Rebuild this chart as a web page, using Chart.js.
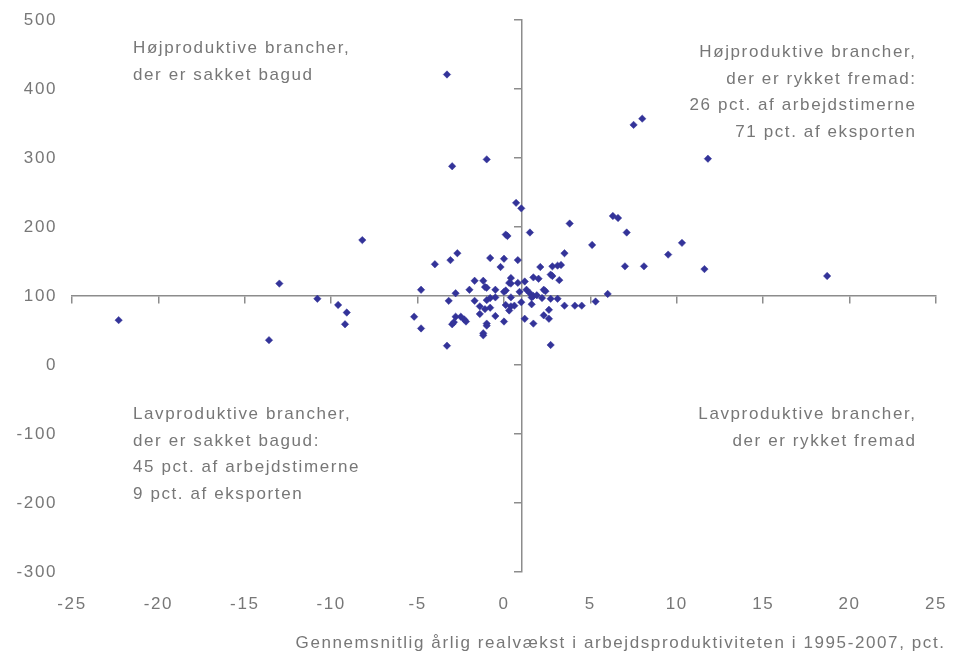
<!DOCTYPE html>
<html><head><meta charset="utf-8">
<script src="https://cdn.jsdelivr.net/npm/chart.js@4.4.1/dist/chart.umd.min.js"></script>
<style>html,body{margin:0;padding:0;background:#fff;overflow:hidden}#wrap{width:955px;height:653px;position:relative}</style>
</head><body><div id="wrap"><canvas id="c"></canvas></div>
<script>
// ---- data ----
const xValues = [
  -22.3, -13.0, -13.6, -10.8, -9.6, -9.1, -9.2, -8.2, -3.3, -3.0,
  -1.0, 7.5, 8.0, 11.8, 3.8, 6.3, 6.6, 7.1, 5.1, 10.3,
  9.5, 3.5, 3.3, 3.2, 7.0, 8.1, 11.6, 18.7, 6.0, 5.3,
  3.5, 4.1, 4.5, -4.8, -5.2, -4.8, -4.0, -3.1, -2.7, -3.2,
  -2.8, -3.3, -2.8, -2.5, -2.3, -2.2, -3.0, -2.9, -1.4, -0.5,
  0.0, -1.0, -1.0, -1.2, -1.2, 1.2, 1.7, 2.3, 2.6, 2.6,
  2.7, 0.7, 1.0, 1.5, 0.2, 0.1, -0.8, 0.0, 0.8, -0.2,
  2.1, 2.8, 3.1, 2.7, 2.8, 1.7, 2.0, 0.4, 0.3, 0.4,
  0.8, 1.2, -1.7, -1.2, -1.1, -1.0, -2.0, -0.5, 0.0, 0.1,
  0.9, 1.3, 2.4, 2.3, 1.5, 1.7, 1.9, -1.7, -1.0, -0.8,
  -0.5, 0.4, 1.0, 1.6, 1.6, 2.2, 2.7, 3.1, -1.4, -1.1,
  -0.8, 0.1, 0.4, 0.6, 0.3
];
const yValues = [
  65, 118, 36, 96, 87, 76, 59, 181, 421, 288,
  298, 348, 357, 299, 205, 216, 213, 192, 174, 177,
  160, 162, 145, 123, 143, 143, 139, 129, 103, 92,
  86, 86, 86, 109, 70, 53, 146, 152, 162, 93,
  104, 28, 70, 70, 66, 63, 59, 62, 74, 71,
  63, 60, 57, 46, 43, 67, 60, 72, 80, 67,
  29, 235, 227, 192, 187, 189, 155, 154, 152, 142,
  142, 143, 144, 131, 129, 127, 125, 126, 119, 118,
  119, 121, 122, 122, 113, 112, 109, 109, 106, 108,
  106, 109, 107, 109, 104, 100, 101, 93, 94, 97,
  98, 98, 91, 98, 88, 97, 96, 96, 85, 81,
  83, 87, 85, 86, 79
];
const xTickValues = [-25, -20, -15, -10, -5, 0, 5, 10, 15, 20, 25];
const yTickValues = [-300, -200, -100, 0, 100, 200, 300, 400, 500];
const xCross = 1;     // vertical axis crosses here
const yCross = 100;   // horizontal axis crosses here
const xAxisTitle = 'Gennemsnitlig årlig realvækst i arbejdsproduktiviteten i 1995-2007, pct.';
const textTopLeft = ['Højproduktive brancher,', 'der er sakket bagud'];
const textTopRight = ['Højproduktive brancher,', 'der er rykket fremad:', '26 pct. af arbejdstimerne', '71 pct. af eksporten'];
const textBottomLeft = ['Lavproduktive brancher,', 'der er sakket bagud:', '45 pct. af arbejdstimerne', '9 pct. af eksporten'];
const textBottomRight = ['Lavproduktive brancher,', 'der er rykket fremad'];

// ---- style ----
const FONT = '"Liberation Sans", Arial, sans-serif';
const FS = 17;
const LS = 1.6;
const TEXT_COLOR = '#777777';
const AXIS_COLOR = '#8c8c8c';
const POINT_COLOR = '#333399';

const points = xValues.map((x, i) => ({x: x, y: yValues[i]}));

const spacingPlugin = {
  id: 'spacing',
  beforeUpdate(chart) { chart.ctx.letterSpacing = LS + 'px'; },
  beforeDraw(chart) { chart.ctx.letterSpacing = LS + 'px'; }
};

const textPlugin = {
  id: 'quadrantTexts',
  afterDraw(chart) {
    const ctx = chart.ctx;
    const a = chart.chartArea;
    ctx.save();
    ctx.letterSpacing = LS + 'px';
    ctx.font = FS + 'px ' + FONT;
    ctx.fillStyle = TEXT_COLOR;
    ctx.textBaseline = 'alphabetic';
    const lh = 26.6;
    ctx.textAlign = 'left';
    textTopLeft.forEach((t, i) => ctx.fillText(t, a.left + 61, a.top + 33 + i * lh));
    textBottomLeft.forEach((t, i) => ctx.fillText(t, a.left + 61, a.bottom - 153 + i * lh));
    ctx.textAlign = 'right';
    textTopRight.forEach((t, i) => ctx.fillText(t, a.right - 21 + LS, a.top + 37 + i * lh));
    textBottomRight.forEach((t, i) => ctx.fillText(t, a.right - 21 + LS, a.bottom - 153 + i * lh));
    // x axis title
    ctx.fillText(xAxisTitle, a.right + 8 + LS, a.bottom + 76);
    ctx.restore();
  }
};

new Chart(document.getElementById('c'), {
  type: 'scatter',
  data: {
    datasets: [{
      data: points,
      pointStyle: 'rectRot',
      pointRadius: 3.7,
      pointHoverRadius: 3.7,
      backgroundColor: POINT_COLOR,
      borderColor: POINT_COLOR,
      borderWidth: 0.5
    }]
  },
  options: {
    responsive: true,
    maintainAspectRatio: false,
    animation: false,
    events: [],
    layout: { padding: { top: 20, right: 19, left: 0, bottom: 0 } },
    plugins: { legend: { display: false }, tooltip: { enabled: false } },
    scales: {
      x: {
        type: 'linear', position: 'bottom', min: -25, max: 25,
        afterBuildTicks: s => { s.ticks = xTickValues.map(v => ({value: v})); },
        afterFit: s => { s.height = 81; s.paddingLeft = 0; s.paddingRight = 0; },
        grid: { display: false, drawTicks: false },
        border: { display: false },
        ticks: { color: TEXT_COLOR, font: { family: FONT, size: FS }, padding: 22, maxRotation: 0, autoSkip: false }
      },
      y: {
        type: 'linear', position: 'left', min: -300, max: 500,
        afterBuildTicks: s => { s.ticks = yTickValues.map(v => ({value: v})); },
        afterFit: s => { s.width = 72; s.paddingTop = 0; s.paddingBottom = 0; },
        grid: { display: false, drawTicks: false },
        border: { display: false },
        ticks: { color: TEXT_COLOR, font: { family: FONT, size: FS }, padding: 15 }
      },
      x2: {
        type: 'linear', axis: 'x', position: { y: yCross }, min: -25, max: 25,
        afterBuildTicks: s => { s.ticks = xTickValues.map(v => ({value: v})); },
        ticks: { display: false },
        grid: { drawOnChartArea: false, drawTicks: true, tickLength: 7, color: AXIS_COLOR, lineWidth: 1.5 },
        border: { display: true, color: AXIS_COLOR, width: 1.5 }
      },
      y2: {
        type: 'linear', axis: 'y', position: { x: xCross }, min: -300, max: 500,
        afterBuildTicks: s => { s.ticks = yTickValues.map(v => ({value: v})); },
        ticks: { display: false },
        grid: { drawOnChartArea: false, drawTicks: true, tickLength: 7, color: AXIS_COLOR, lineWidth: 1.5 },
        border: { display: true, color: AXIS_COLOR, width: 1.5 }
      }
    }
  },
  plugins: [spacingPlugin, textPlugin]
});
</script>
</body></html>
